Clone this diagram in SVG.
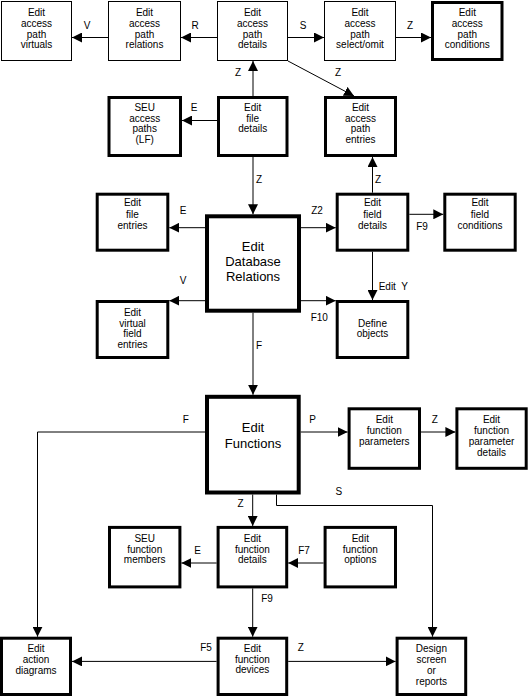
<svg xmlns="http://www.w3.org/2000/svg" width="530" height="696" viewBox="0 0 530 696">
<style>
text{font-family:"Liberation Sans",Arial,sans-serif;font-size:10px;fill:#000;text-anchor:middle}
.big{font-size:13px}
rect{fill:#fff;stroke:#000}
.thin{stroke-width:1}
.med{stroke-width:3}
.thick{stroke-width:4}
#connectors path{fill:none;stroke:#000;stroke-width:1;marker-end:url(#ah)}
</style>
<defs>
<marker id="ah" markerUnits="userSpaceOnUse" markerWidth="10" markerHeight="10" refX="10" refY="5" orient="auto">
<path d="M0,0 L10,5 L0,10 z" fill="#000"/>
</marker>
</defs>
<rect x="0" y="0" width="530" height="696" style="fill:#fff;stroke:none"/>
<g id="connectors">
<path d="M108,37.5 H72"/>
<path d="M217,37.5 H181"/>
<path d="M288,37.5 H324"/>
<path d="M396,37.5 H431"/>
<path d="M253,96 V61"/>
<path d="M288,61 L354,96"/>
<path d="M217,120.5 H182"/>
<path d="M372.5,192.7 V157"/>
<path d="M253,157 V214.3"/>
<path d="M205,227.7 H169.3"/>
<path d="M301,227.7 H335.7"/>
<path d="M409.3,214.3 H443.3"/>
<path d="M205,300.7 H169.3"/>
<path d="M301,300.7 H335.7"/>
<path d="M372.5,251.7 V300"/>
<path d="M253,312.7 V394.8"/>
<path d="M300.7,432 H347.6"/>
<path d="M421,432 H455.4"/>
<path d="M205,432 H37.5 V636.7"/>
<path d="M252.7,494.5 V525.9"/>
<path d="M276.5,494.5 V505.5 H432.5 V636.7"/>
<path d="M216.6,563 H181.4"/>
<path d="M323.6,563 H288.2"/>
<path d="M252.7,588.4 V636.7"/>
<path d="M216.6,661.4 H72"/>
<path d="M288.2,661.4 H395.6"/>
<text x="87" y="28.9">V</text>
<text x="195" y="28.9">R</text>
<text x="303" y="28.9">S</text>
<text x="410" y="28.9">Z</text>
<text x="238" y="76">Z</text>
<text x="338" y="76">Z</text>
<text x="194" y="110.6">E</text>
<text x="378" y="182.6">Z</text>
<text x="259" y="182.6">Z</text>
<text x="183" y="213.6">E</text>
<text x="317" y="213.6">Z2</text>
<text x="422" y="229.6">F9</text>
<text x="183" y="283.6">V</text>
<text x="319.3" y="320.9">F10</text>
<text x="393.3" y="289.6">Edit&#160; Y</text>
<text x="259" y="349.3">F</text>
<text x="312.5" y="423.1">P</text>
<text x="434.8" y="423.1">Z</text>
<text x="185.8" y="423.1">F</text>
<text x="240.5" y="507.2">Z</text>
<text x="338.9" y="494.6">S</text>
<text x="197.6" y="554.1">E</text>
<text x="304" y="554.1">F7</text>
<text x="267" y="602.1">F9</text>
<text x="206" y="651.4">F5</text>
<text x="300.7" y="651.4">Z</text>
</g>
<g id="ap-virtuals"><rect class="thin" x="1.5" y="1.5" width="70" height="59"/><text x="36.5" y="16.3">Edit<tspan x="36.5" dy="10.7">access</tspan><tspan x="36.5" dy="10.7">path</tspan><tspan x="36.5" dy="10.7">virtuals</tspan></text></g>
<g id="ap-relations"><rect class="thin" x="108.5" y="1.5" width="72" height="59"/><text x="144.5" y="16.3">Edit<tspan x="144.5" dy="10.7">access</tspan><tspan x="144.5" dy="10.7">path</tspan><tspan x="144.5" dy="10.7">relations</tspan></text></g>
<g id="ap-details"><rect class="thin" x="217.5" y="1.5" width="70" height="59"/><text x="252.5" y="16.3">Edit<tspan x="252.5" dy="10.7">access</tspan><tspan x="252.5" dy="10.7">path</tspan><tspan x="252.5" dy="10.7">details</tspan></text></g>
<g id="ap-selomit"><rect class="thin" x="324.5" y="1.5" width="71" height="59"/><text x="360" y="16.3">Edit<tspan x="360" dy="10.7">access</tspan><tspan x="360" dy="10.7">path</tspan><tspan x="360" dy="10.7">select/omit</tspan></text></g>
<g id="ap-conditions"><rect class="med" x="432.5" y="2.5" width="69.5" height="57"/><text x="467.3" y="16.3">Edit<tspan x="467.3" dy="10.7">access</tspan><tspan x="467.3" dy="10.7">path</tspan><tspan x="467.3" dy="10.7">conditions</tspan></text></g>
<g id="seu-ap"><rect class="med" x="109" y="97.5" width="71.5" height="58"/><text x="144.7" y="110.9">SEU<tspan x="144.7" dy="10.7">access</tspan><tspan x="144.7" dy="10.7">paths</tspan><tspan x="144.7" dy="10.7">(LF)</tspan></text></g>
<g id="file-details"><rect class="med" x="218.5" y="97.5" width="68.5" height="58"/><text x="252.7" y="110.9">Edit<tspan x="252.7" dy="10.7">file</tspan><tspan x="252.7" dy="10.7">details</tspan></text></g>
<g id="ap-entries"><rect class="med" x="325.5" y="97.5" width="70" height="58"/><text x="360.5" y="110.9">Edit<tspan x="360.5" dy="10.7">access</tspan><tspan x="360.5" dy="10.7">path</tspan><tspan x="360.5" dy="10.7">entries</tspan></text></g>
<g id="file-entries"><rect class="med" x="97.2" y="194.2" width="70.6" height="56"/><text x="132.5" y="206.3">Edit<tspan x="132.5" dy="11.2">file</tspan><tspan x="132.5" dy="11.2">entries</tspan></text></g>
<g id="edr"><rect class="thick" x="207" y="216.3" width="92" height="94.4"/><text class="big" x="253" y="251.4">Edit<tspan x="253" dy="14.7">Database</tspan><tspan x="253" dy="14.7">Relations</tspan></text></g>
<g id="field-details"><rect class="med" x="337.2" y="194.2" width="70.6" height="56"/><text x="372.5" y="206.3">Edit<tspan x="372.5" dy="11.2">field</tspan><tspan x="372.5" dy="11.2">details</tspan></text></g>
<g id="field-conditions"><rect class="med" x="444.8" y="194.2" width="70.4" height="56"/><text x="480" y="206.3">Edit<tspan x="480" dy="11.2">field</tspan><tspan x="480" dy="11.2">conditions</tspan></text></g>
<g id="virtual-field-entries"><rect class="med" x="97.2" y="301.5" width="70.6" height="56"/><text x="132.5" y="316.3">Edit<tspan x="132.5" dy="10.5">virtual</tspan><tspan x="132.5" dy="10.5">field</tspan><tspan x="132.5" dy="10.5">entries</tspan></text></g>
<g id="define-objects"><rect class="med" x="337.2" y="301.5" width="70.6" height="56"/><text x="372.5" y="326.9">Define<tspan x="372.5" dy="10.5">objects</tspan></text></g>
<g id="edit-functions"><rect class="thick" x="207" y="396.8" width="91.7" height="95.7"/><text class="big" x="253" y="432.3">Edit<tspan x="253" dy="15.2">Functions</tspan></text></g>
<g id="function-parameters"><rect class="med" x="349.1" y="408.8" width="70.4" height="59.5"/><text x="384.3" y="423.1">Edit<tspan x="384.3" dy="10.9">function</tspan><tspan x="384.3" dy="10.9">parameters</tspan></text></g>
<g id="parameter-details"><rect class="med" x="456.9" y="408.8" width="69.3" height="59.5"/><text x="491.5" y="423.1">Edit<tspan x="491.5" dy="10.9">function</tspan><tspan x="491.5" dy="10.9">parameter</tspan><tspan x="491.5" dy="10.9">details</tspan></text></g>
<g id="seu-function-members"><rect class="med" x="109.5" y="527.4" width="70.4" height="59.5"/><text x="144.7" y="541.6">SEU<tspan x="144.7" dy="10.9">function</tspan><tspan x="144.7" dy="10.9">members</tspan></text></g>
<g id="function-details"><rect class="med" x="218.1" y="527.4" width="68.6" height="59.5"/><text x="252.4" y="541.6">Edit<tspan x="252.4" dy="10.9">function</tspan><tspan x="252.4" dy="10.9">details</tspan></text></g>
<g id="function-options"><rect class="med" x="325.1" y="527.4" width="70.4" height="59.5"/><text x="360.3" y="541.6">Edit<tspan x="360.3" dy="10.9">function</tspan><tspan x="360.3" dy="10.9">options</tspan></text></g>
<g id="action-diagrams"><rect class="med" x="1.5" y="638.2" width="69" height="56.3"/><text x="36" y="652.1">Edit<tspan x="36" dy="10.9">action</tspan><tspan x="36" dy="10.9">diagrams</tspan></text></g>
<g id="function-devices"><rect class="med" x="218.1" y="638.2" width="68.6" height="56.3"/><text x="252.4" y="652.1">Edit<tspan x="252.4" dy="10.9">function</tspan><tspan x="252.4" dy="9.5">devices</tspan></text></g>
<g id="design-screen"><rect class="med" x="397.1" y="638.2" width="68.6" height="56.3"/><text x="431.4" y="652.1">Design<tspan x="431.4" dy="10.9">screen</tspan><tspan x="431.4" dy="10.9">or</tspan><tspan x="431.4" dy="10.9">reports</tspan></text></g>
</svg>
